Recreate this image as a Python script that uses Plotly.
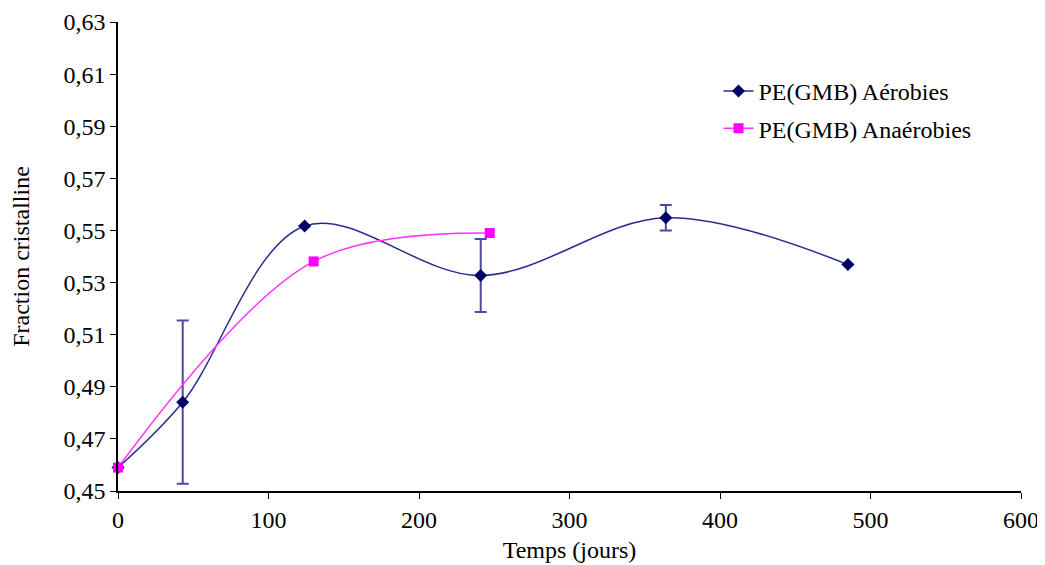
import plotly.graph_objects as go

# Data
aero_x = [0, 43, 124, 241, 364, 485]
aero_y = [0.459, 0.4841, 0.5517, 0.5327, 0.5549, 0.5369]
aero_err = [None, 0.0313, None, 0.014, 0.0049, None]

anaero_x = [0, 130, 247]
anaero_y = [0.459, 0.5381, 0.549]

x_ticks = [0, 100, 200, 300, 400, 500, 600]
y_ticks = [0.45, 0.47, 0.49, 0.51, 0.53, 0.55, 0.57, 0.59, 0.61, 0.63]

FONT = "Liberation Serif, Times New Roman, serif"
FS = 24

fig = go.Figure()
fig.add_trace(go.Scatter(
    x=aero_x, y=aero_y, name="PE(GMB) Aérobies", legendgroup="a",
    mode="lines+markers",
    line=dict(color="#2B2B8F", width=1.5, shape="spline", smoothing=1.0),
    marker=dict(symbol="diamond", size=10, color="#000066"),
    error_y=dict(type="data", array=aero_err, visible=True,
                 color="#4A4A9E", thickness=2, width=6),
    cliponaxis=False,
))
fig.add_trace(go.Scatter(
    x=anaero_x, y=anaero_y, name="PE(GMB) Anaérobies", legendgroup="b",
    mode="lines+markers",
    line=dict(color="#FF33FF", width=1.5, shape="spline", smoothing=1.0),
    marker=dict(symbol="square", size=10, color="#FF00FF"),
    cliponaxis=False,
))

axis_common = dict(
    showgrid=False, zeroline=False, showline=True, linecolor="black",
    linewidth=1.5, ticks="outside", ticklen=6, tickcolor="black",
    tickfont=dict(family=FONT, size=FS, color="black"),
    automargin=False,
)

# margins compensate the 8px default body margin of the html page
fig.update_layout(
    width=1045, height=565,
    margin=dict(l=110, r=32, t=14, b=82),
    paper_bgcolor="white", plot_bgcolor="white",
    separators=",.",
    font=dict(family=FONT, size=FS, color="black"),
    xaxis=dict(range=[0, 600], tickvals=x_ticks,
               title=dict(text="Temps (jours)", font=dict(family=FONT, size=FS), standoff=10),
               **axis_common),
    yaxis=dict(range=[0.45, 0.63], tickvals=y_ticks, tickformat=".2f",
               title=dict(text="Fraction cristalline", font=dict(family=FONT, size=FS), standoff=28),
               **axis_common),
    legend=dict(x=0.665, y=0.9, xanchor="left", yanchor="top",
                bgcolor="rgba(0,0,0,0)", font=dict(family=FONT, size=FS),
                tracegroupgap=3),
    showlegend=True,
)

fig.write_html("out.html")
